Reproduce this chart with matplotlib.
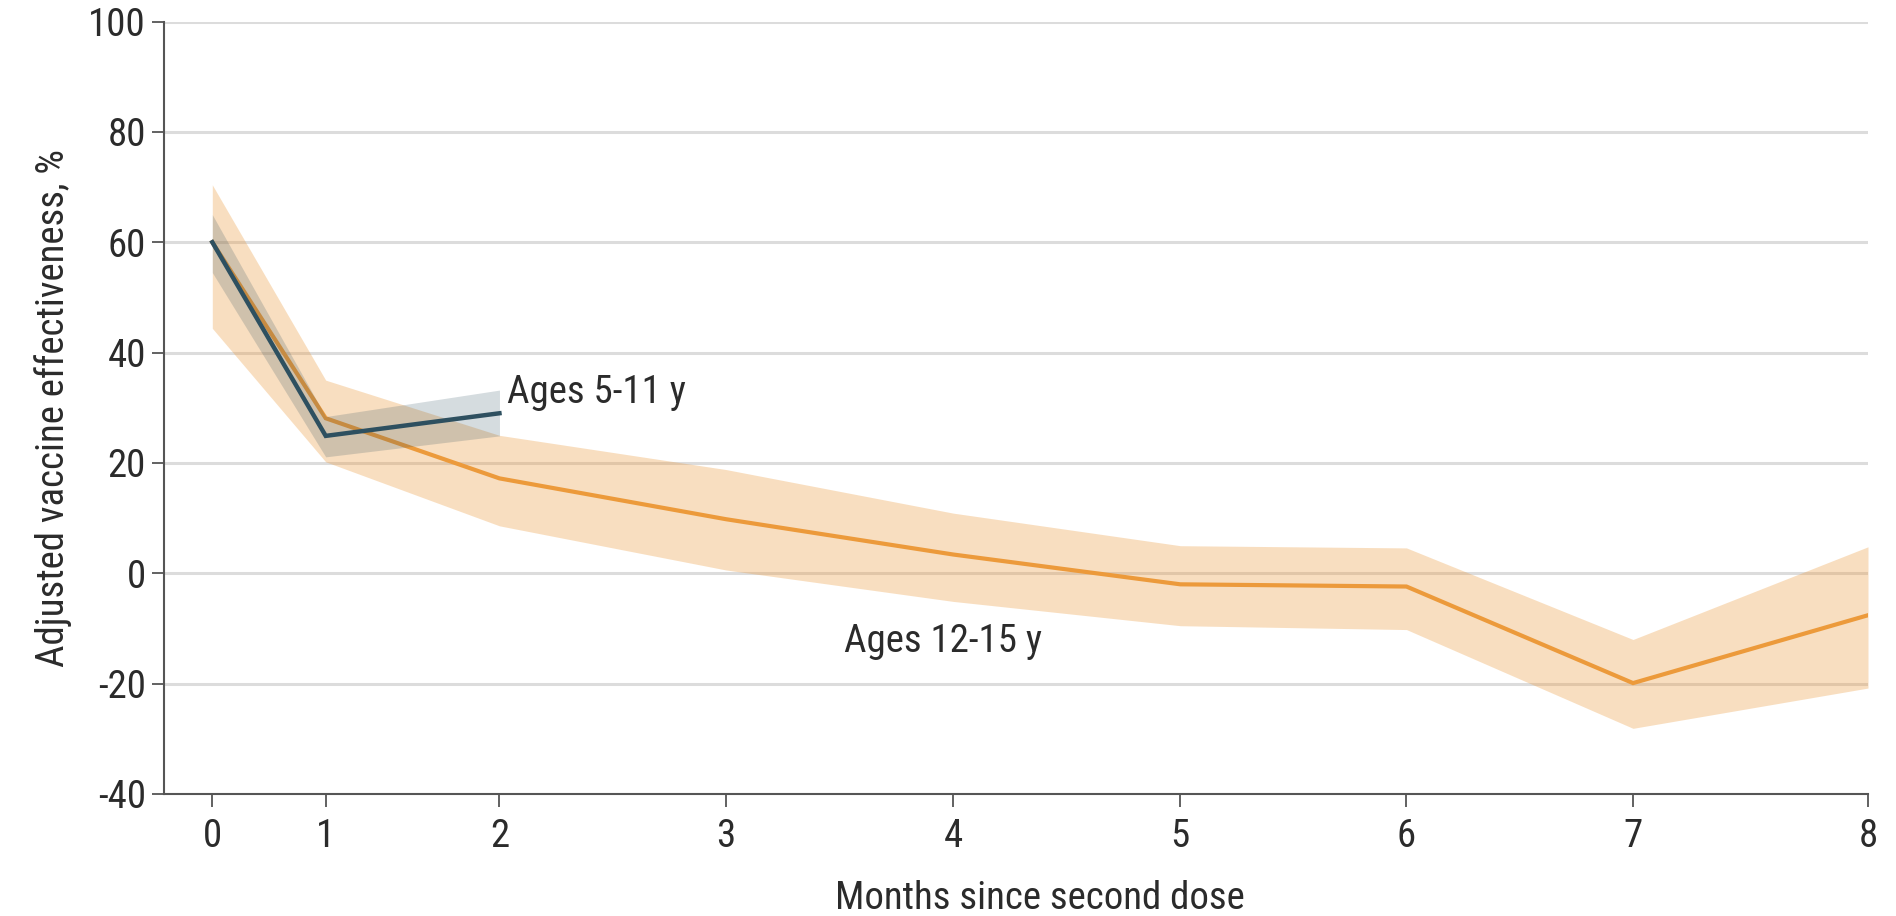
import matplotlib
matplotlib.use("Agg")
import matplotlib.pyplot as plt
from matplotlib import font_manager

# ---- data ----
month_labels = ["0", "1", "2", "3", "4", "5", "6", "7", "8"]
month_pos = [0.0, 0.50, 1.266, 2.265, 3.267, 4.268, 5.265, 6.264, 7.30]

ve_12_15 = [60.0, 28.1, 17.2, 9.8, 3.4, -2.0, -2.4, -19.9, -7.6]
lo_12_15 = [44.4, 20.2, 8.6, 0.6, -5.1, -9.5, -10.2, -28.1, -20.8]
hi_12_15 = [70.4, 35.0, 25.0, 18.8, 10.9, 5.0, 4.6, -12.0, 4.8]

ve_5_11 = [60.0, 24.9, 29.0]
lo_5_11 = [54.5, 21.1, 24.9]
hi_5_11 = [65.0, 28.4, 33.2]

y_ticks = [-40, -20, 0, 20, 40, 60, 80, 100]

# pick a condensed face if one is installed
names = {f.name for f in font_manager.fontManager.ttflist}
cond = [n for n in ["Roboto Condensed", "Liberation Sans Narrow", "Open Sans Condensed",
                    "DejaVu Sans Condensed", "Noto Sans Condensed"] if n in names]
FONT = cond[:1] + ["Open Sans", "DejaVu Sans"]
plt.rcParams["font.family"] = FONT
plt.rcParams["font.stretch"] = "condensed"
FS = 28

orange = "#EC9A3B"
blue = "#2E5060"
txt = "#2b2b2b"

fig = plt.figure(figsize=(18.96, 9.16), dpi=100)
ax = fig.add_axes([164 / 1896, 1 - 794 / 916, (1868 - 164) / 1896, (794 - 21.5) / 916])

for y in y_ticks:
    if y == -40:
        continue
    ax.axhline(y, color="#DCDCDC", lw=2.2, zorder=0)

ax.fill_between(month_pos, lo_12_15, hi_12_15, color=orange, alpha=0.32, lw=0, zorder=1)
ax.plot(month_pos, ve_12_15, color=orange, lw=3.0, zorder=2, solid_joinstyle="miter")

bx = month_pos[:3]
ax.fill_between(bx, lo_5_11, hi_5_11, color=blue, alpha=0.2, lw=0, zorder=3)
ax.plot(bx, ve_5_11, color=blue, lw=3.2, zorder=4, solid_joinstyle="miter")

ax.text(month_pos[2] + 0.035, 32.8, "Ages 5-11 y", fontsize=FS, color=txt,
        ha="left", va="center")
ax.text(3.22, -12.3, "Ages 12-15 y", fontsize=FS, color=txt,
        ha="center", va="center")

ax.set_xlim(-0.213, month_pos[-1])
ax.set_ylim(-40, 100)
ax.set_xticks(month_pos)
ax.set_xticklabels(month_labels)
ax.set_yticks(y_ticks)
ax.set_yticklabels([str(v) for v in y_ticks])

for s in ["top", "right"]:
    ax.spines[s].set_visible(False)
for s in ["left", "bottom"]:
    ax.spines[s].set_color("#555555")
    ax.spines[s].set_linewidth(1.5)

ax.tick_params(axis="both", direction="out", length=9, width=1.3, color="#555555",
               labelsize=FS, labelcolor=txt)
ax.tick_params(axis="x", pad=8)
ax.tick_params(axis="y", pad=4)

ax.set_xlabel("Months since second dose", fontsize=FS, color=txt, labelpad=18)
ax.xaxis.label.set_x(0.514)
ax.set_ylabel("Adjusted vaccine effectiveness, %", fontsize=FS, color=txt, labelpad=12)

fig.savefig("out.png", dpi=100, facecolor="white")
